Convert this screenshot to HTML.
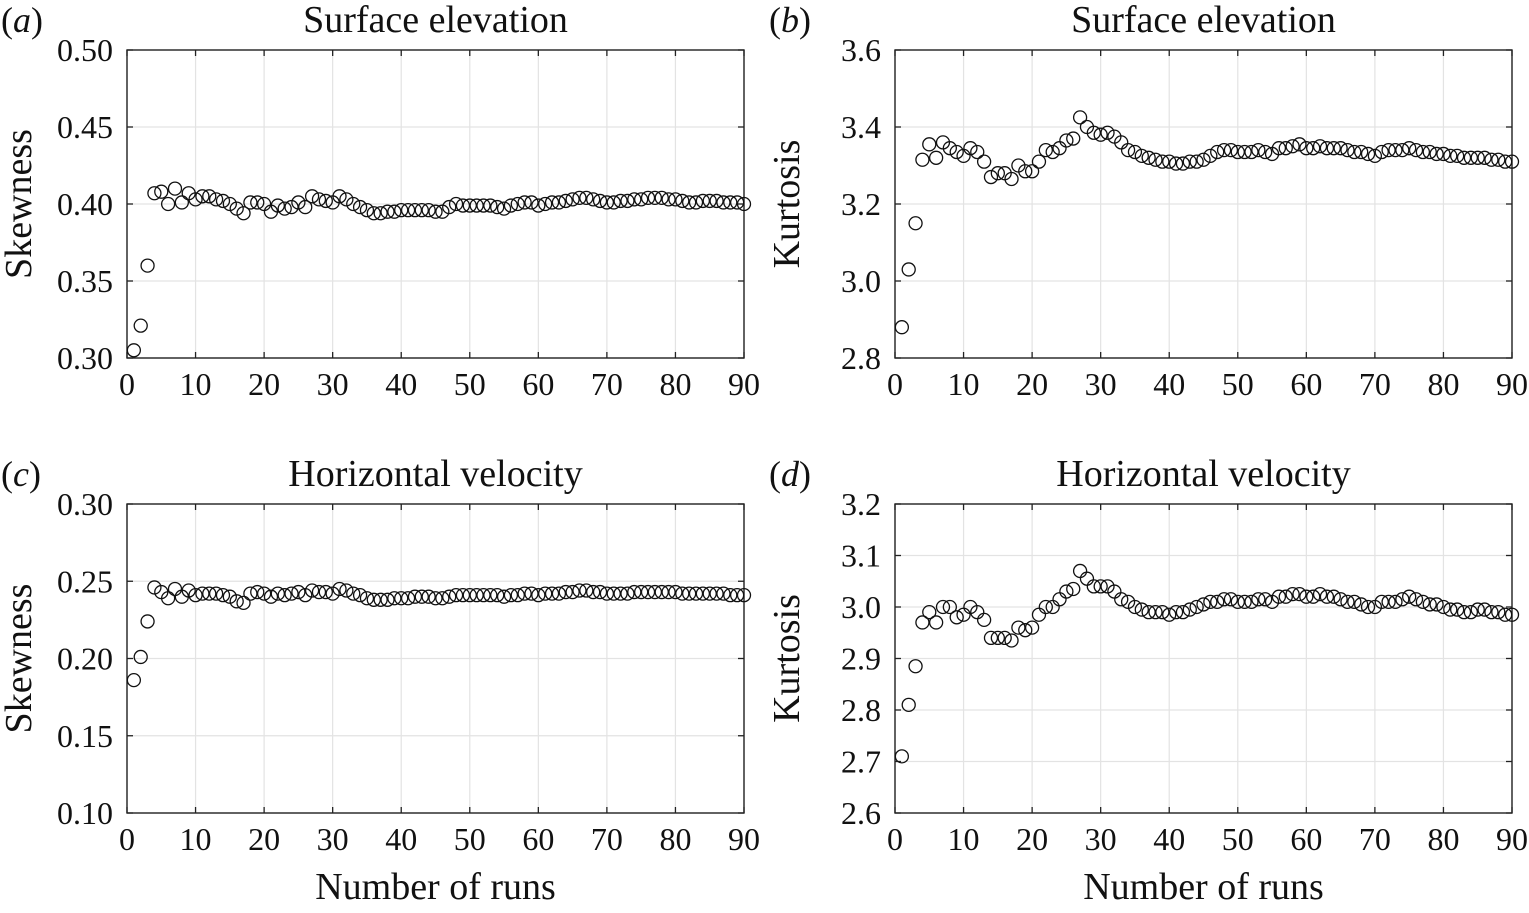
<!DOCTYPE html>
<html><head><meta charset="utf-8"><style>
html,body{margin:0;padding:0;background:#fff;}
svg{display:block;}
svg text{font-family:"Liberation Serif","Times New Roman",Times,"DejaVu Serif",serif;}
</style></head><body>
<svg id="fig" width="1529" height="913" xmlns="http://www.w3.org/2000/svg"></svg>
<script>
const runs = Array.from({length:90},(_,i)=>i+1);
const skewElev = [0.305,0.321,0.360,0.407,0.408,0.400,0.410,0.401,0.407,0.403,0.405,0.405,0.403,0.402,0.400,0.397,0.394,0.401,0.401,0.400,0.395,0.399,0.397,0.398,0.401,0.398,0.405,0.403,0.402,0.401,0.405,0.403,0.400,0.398,0.396,0.394,0.394,0.395,0.395,0.396,0.396,0.396,0.396,0.396,0.395,0.395,0.398,0.400,0.399,0.399,0.399,0.399,0.399,0.398,0.397,0.399,0.400,0.401,0.401,0.399,0.400,0.401,0.401,0.402,0.403,0.404,0.404,0.403,0.402,0.401,0.401,0.402,0.402,0.403,0.403,0.404,0.404,0.404,0.403,0.403,0.402,0.401,0.401,0.402,0.402,0.402,0.401,0.401,0.401,0.400];
const kurtElev = [2.88,3.03,3.15,3.315,3.355,3.32,3.36,3.345,3.335,3.325,3.345,3.335,3.31,3.27,3.28,3.28,3.265,3.30,3.285,3.285,3.31,3.34,3.335,3.345,3.365,3.37,3.425,3.40,3.385,3.38,3.385,3.375,3.36,3.34,3.335,3.325,3.32,3.315,3.31,3.31,3.305,3.305,3.31,3.31,3.315,3.325,3.335,3.34,3.34,3.335,3.335,3.335,3.34,3.335,3.33,3.345,3.345,3.35,3.355,3.345,3.345,3.35,3.345,3.345,3.345,3.34,3.335,3.335,3.33,3.325,3.335,3.34,3.34,3.34,3.345,3.34,3.335,3.335,3.33,3.33,3.325,3.325,3.32,3.32,3.32,3.32,3.315,3.315,3.31,3.31];
const skewVel = [0.186,0.201,0.224,0.246,0.243,0.239,0.245,0.240,0.244,0.241,0.242,0.242,0.242,0.241,0.240,0.237,0.236,0.242,0.243,0.242,0.240,0.242,0.241,0.242,0.243,0.241,0.244,0.243,0.243,0.242,0.245,0.244,0.242,0.241,0.239,0.238,0.238,0.238,0.239,0.239,0.239,0.240,0.240,0.240,0.239,0.239,0.240,0.241,0.241,0.241,0.241,0.241,0.241,0.241,0.240,0.241,0.241,0.242,0.242,0.241,0.242,0.242,0.242,0.243,0.243,0.244,0.244,0.243,0.243,0.242,0.242,0.242,0.242,0.243,0.243,0.243,0.243,0.243,0.243,0.243,0.242,0.242,0.242,0.242,0.242,0.242,0.242,0.241,0.241,0.241];
const kurtVel = [2.71,2.81,2.885,2.97,2.99,2.97,3.0,3.0,2.98,2.985,3.0,2.99,2.975,2.94,2.94,2.94,2.935,2.96,2.955,2.96,2.985,3.0,3.0,3.015,3.03,3.035,3.07,3.055,3.04,3.04,3.04,3.03,3.015,3.01,3.0,2.995,2.99,2.99,2.99,2.985,2.99,2.99,2.995,3.0,3.005,3.01,3.01,3.015,3.015,3.01,3.01,3.01,3.015,3.015,3.01,3.02,3.02,3.025,3.025,3.02,3.02,3.025,3.02,3.02,3.015,3.01,3.01,3.005,3.0,3.0,3.01,3.01,3.01,3.015,3.02,3.015,3.01,3.005,3.005,3.0,2.995,2.995,2.99,2.99,2.995,2.995,2.99,2.99,2.985,2.985];
const xTicks = [0,10,20,30,40,50,60,70,80,90];
const yTicksA = [0.30,0.35,0.40,0.45,0.50];
const yTicksB = [2.8,3.0,3.2,3.4,3.6];
const yTicksC = [0.10,0.15,0.20,0.25,0.30];
const yTicksD = [2.6,2.7,2.8,2.9,3.0,3.1,3.2];

const NS="http://www.w3.org/2000/svg";
const svg=document.getElementById('fig');
function mk(tag,attrs,parent){const e=document.createElementNS(NS,tag);for(const k in attrs)e.setAttribute(k,attrs[k]);(parent||svg).appendChild(e);return e;}

function panel(p){
  const g=mk('g',{});
  
  
  const L=p.x0,R=p.x1,T=p.y0,B=p.y1;
  const ymin=p.yt[0],ymax=p.yt[p.yt.length-1];
  const sx=v=>L+(v-0)/(90-0)*(R-L);
  const sy=v=>B-(v-ymin)/(ymax-ymin)*(B-T);
  xTicks.forEach(t=>{const l=mk('line',{x1:sx(t),x2:sx(t),y1:T,y2:B,stroke:'#e3e3e3','stroke-width':1.2},g);
    });
  p.yt.forEach(t=>{const l=mk('line',{x1:L,x2:R,y1:sy(t),y2:sy(t),stroke:'#e3e3e3','stroke-width':1.2},g);
    });
  xTicks.forEach(t=>{
    mk('line',{x1:sx(t),x2:sx(t),y1:T,y2:T+6,stroke:'#222','stroke-width':1.3},g);
    mk('line',{x1:sx(t),x2:sx(t),y1:B,y2:B-6,stroke:'#222','stroke-width':1.3},g);
    const tx=mk('text',{x:sx(t),y:B+37,'font-size':32,'text-anchor':'middle',fill:'#111'},g);
    tx.textContent=t;
    
  });
  p.yt.forEach(t=>{
    mk('line',{x1:L,x2:L+6,y1:sy(t),y2:sy(t),stroke:'#222','stroke-width':1.3},g);
    mk('line',{x1:R,x2:R-6,y1:sy(t),y2:sy(t),stroke:'#222','stroke-width':1.3},g);
    const tx=mk('text',{x:L-14,y:sy(t)+11,'font-size':32,'text-anchor':'end',fill:'#111'},g);
    tx.textContent=t.toFixed(p.dec);
    
  });
  const box=mk('rect',{x:L,y:T,width:R-L,height:B-T,fill:'none',stroke:'#222','stroke-width':1.4},g);
  
  p.vals.forEach((v,i)=>{
    const c=mk('circle',{cx:sx(runs[i]),cy:sy(v),r:6.5,fill:'none',stroke:'#111','stroke-width':1.3},g);
    
    
  });
  const ti=mk('text',{x:(L+R)/2,y:T-18,'font-size':38,'text-anchor':'middle',fill:'#111'},g);
  ti.textContent=p.title;
  
  const lb=mk('text',{x:L-126,y:T-18,'font-size':36,fill:'#111'},g);
  lb.innerHTML='(<tspan font-style="italic">'+p.id+'</tspan>)';
  
  const yl=mk('text',{x:0,y:0,'font-size':38,'text-anchor':'middle',fill:'#111',transform:`translate(${L-96},${(T+B)/2}) rotate(-90)`},g);
  yl.textContent=p.ylab;
  
  if(p.xlab){const xl=mk('text',{x:(L+R)/2,y:B+86,'font-size':38,'text-anchor':'middle',fill:'#111'},g);
    xl.textContent='Number of runs';
    }
}
panel({id:'a',x0:127,x1:744,y0:50,y1:358,yt:yTicksA,dec:2,vals:skewElev,title:'Surface elevation',ylab:'Skewness'});
panel({id:'b',x0:895,x1:1512,y0:50,y1:358,yt:yTicksB,dec:1,vals:kurtElev,title:'Surface elevation',ylab:'Kurtosis'});
panel({id:'c',x0:127,x1:744,y0:504,y1:813,yt:yTicksC,dec:2,vals:skewVel,title:'Horizontal velocity',ylab:'Skewness',xlab:true});
panel({id:'d',x0:895,x1:1512,y0:504,y1:813,yt:yTicksD,dec:1,vals:kurtVel,title:'Horizontal velocity',ylab:'Kurtosis',xlab:true});
</script>
</body></html>
